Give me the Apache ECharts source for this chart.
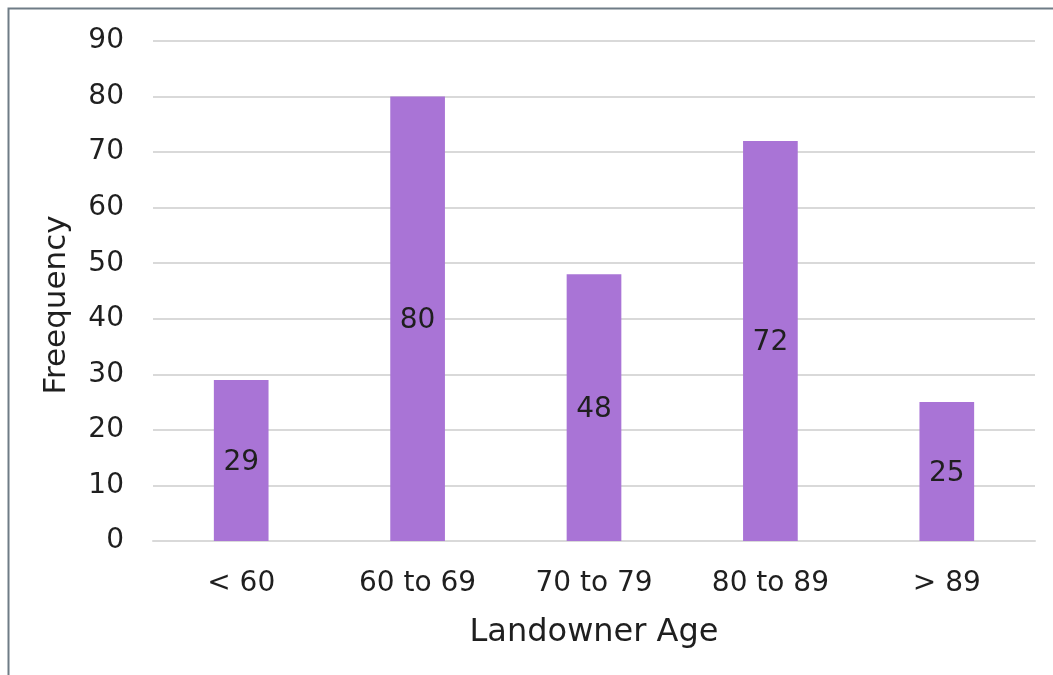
<!DOCTYPE html>
<html>
<head>
<meta charset="utf-8">
<script src="https://cdn.jsdelivr.net/npm/echarts@6/dist/echarts.min.js"></script>
<style>
  html, body { margin: 0; padding: 0; background: #fff; }
  #c { width: 1053px; height: 675px; }
</style>
</head>
<body>
<div id="c"></div>
<script>
const categories = ['< 60', '60 to 69', '70 to 79', '80 to 89', '> 89']
const frequency = [29, 80, 48, 72, 25]
const yTicks = { min: 0, max: 90, interval: 10 }

const font = '"DejaVu Sans", sans-serif'
const textColor = '#1f1f1f'

const chart = echarts.init(document.getElementById('c'))
chart.setOption({
  animation: false,
  textStyle: { fontFamily: font },
  grid: { left: 153, right: 18, top: 41, bottom: 134 },
  graphic: [
    {
      type: 'rect',
      shape: { x: 8.5, y: 8.5, width: 1200, height: 800 },
      style: { fill: 'none', stroke: '#6f7c86', lineWidth: 2 },
      silent: true,
    },
  ],
  xAxis: {
    type: 'category',
    data: categories,
    axisLine: { lineStyle: { color: '#d9d9d9', width: 2 } },
    axisTick: { show: false },
    axisLabel: { color: textColor, fontSize: 28, margin: 29, fontFamily: font },
    name: 'Landowner Age',
    nameLocation: 'middle',
    nameGap: 76,
    nameTextStyle: { color: textColor, fontSize: 32, fontFamily: font },
  },
  yAxis: {
    type: 'value',
    min: yTicks.min,
    max: yTicks.max,
    interval: yTicks.interval,
    axisLine: { show: false },
    axisTick: { show: false },
    axisLabel: { color: textColor, fontSize: 28, margin: 29, fontFamily: font, padding: [4, 0, 0, 0] },
    splitLine: { lineStyle: { color: '#d9d9d9', width: 2 } },
    name: 'Freequency',
    nameLocation: 'middle',
    nameGap: 81,
    nameTextStyle: { color: textColor, fontSize: 31, fontFamily: font, padding: [0, 0, 0, -28] },
  },
  series: [
    {
      type: 'bar',
      data: frequency,
      barWidth: '31%',
      itemStyle: { color: '#a974d6' },
      label: {
        show: true,
        position: 'inside',
        offset: [0, 2],
        color: textColor,
        fontSize: 28,
        fontFamily: font,
      },
    },
  ],
})
</script>
</body>
</html>
